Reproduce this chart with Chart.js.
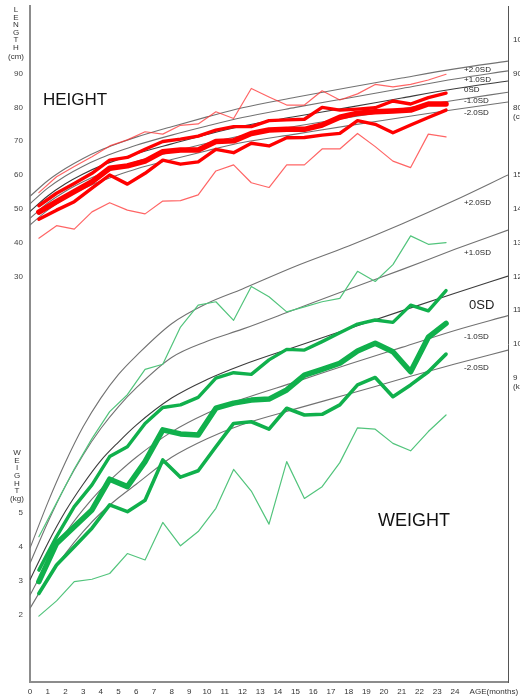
<!DOCTYPE html>
<html><head><meta charset="utf-8">
<script src="https://cdn.jsdelivr.net/npm/chart.js@4.4.1/dist/chart.umd.min.js"></script>
<style>html,body{margin:0;padding:0;background:#fff;}#wrap{width:520px;height:698px;position:relative;}</style>
</head><body><div id="wrap"><canvas id="c"></canvas></div>
<script>
// ---- data: measured points (months) ----
const dataMonths = [0.5,1.5,2.5,3.5,4.5,5.5,6.5,7.5,8.5,9.5,10.5,11.5,12.5,13.5,14.5,15.5,16.5,17.5,18.5,19.5,20.5,21.5,22.5,23.5];
// height (cm)
const heightThinUpper = [54.8,59.5,62.5,65.4,68.6,70.4,72.8,72.1,74.7,75.1,78.7,76.7,85.6,83.1,80.7,80.7,84.9,82.2,84.0,86.8,86.1,86.8,88.1,89.8];
const heightUpper     = [50.9,54.6,57.5,60.5,64.4,65.2,67.6,69.9,70.6,71.5,73.3,74.3,74.3,76.1,76.3,76.5,80.0,79.2,79.5,79.9,81.9,81.0,82.9,84.2];
const heightMiddle    = [49.0,52.1,55.1,58.0,62.0,62.7,64.1,66.9,67.4,67.4,69.9,70.1,72.3,73.3,73.5,73.5,74.8,77.1,78.3,78.7,78.9,79.2,81.0,81.0];
const heightLower     = [46.9,49.6,52.1,56.1,60.0,57.3,60.5,64.4,63.2,63.9,67.6,66.6,69.4,68.6,71.0,71.1,71.8,72.3,76.1,75.0,72.5,74.8,77.0,79.2];
const heightThinLower = [41.3,45.0,44.0,49.1,51.8,49.6,48.5,52.3,52.4,54.1,61.2,63.0,57.7,56.3,63.0,63.0,67.7,67.7,72.3,68.4,64.1,62.2,72.1,71.3];
// weight (kg)
const weightThinUpper = [4.3,5.3,6.3,7.2,8.0,8.5,9.25,9.4,10.5,11.15,11.25,10.7,11.7,11.4,10.95,11.1,11.25,11.35,12.15,11.85,12.35,13.2,12.95,13.0];
const weightUpper     = [3.31,4.3,5.19,5.83,6.67,6.96,7.65,8.12,8.2,8.42,8.99,9.15,9.1,9.53,9.84,9.82,10.07,10.33,10.59,10.71,10.64,11.15,10.98,11.58];
const weightMiddle    = [2.97,4.1,4.59,5.09,6.0,5.78,6.52,7.46,7.34,7.31,8.1,8.25,8.34,8.37,8.64,9.08,9.25,9.43,9.79,10.02,9.77,9.18,10.2,10.61];
const weightLower     = [2.62,3.46,4.0,4.55,5.24,5.04,5.38,6.57,6.06,6.25,6.96,7.65,7.70,7.48,8.10,7.90,7.92,8.20,8.79,9.01,8.44,8.79,9.18,9.70];
const weightThinLower = [1.95,2.4,2.97,3.04,3.21,3.8,3.61,4.72,4.03,4.45,5.14,6.29,5.65,4.67,6.52,5.43,5.78,6.49,7.52,7.48,7.06,6.84,7.41,7.9];

// ---- reference SD curves ----
const curveMonths = [0,1,2,3,4,5,6,8,10,12,15,18,21,24,27];
const heightP2 = [53.7,58.3,61.9,64.9,67.4,69.4,71.2,74.3,77.2,79.9,83.0,85.9,88.7,91.4,93.7];
const heightP1 = [51.5,56.1,59.7,62.6,65.0,67.0,68.8,71.8,74.5,77.0,80.0,82.8,85.6,88.4,90.8];
const height0  = [49.2,53.8,57.4,60.3,62.7,64.6,66.3,69.2,72.0,74.5,77.3,80.0,82.8,85.5,87.8];
const heightM1 = [47.2,51.7,55.2,58.0,60.4,62.3,64.0,66.8,69.4,71.7,74.4,77.0,79.6,82.1,84.5];
const heightM2 = [45.2,49.6,53.1,55.9,58.2,60.1,61.8,64.6,67.2,69.6,72.1,74.6,77.0,79.4,81.6];
const weightP2 = [3.96,5.3,6.5,7.55,8.4,9.1,9.65,10.6,11.2,11.63,12.3,12.9,13.55,14.25,15.0];
const weightP1 = [3.51,4.72,5.8,6.72,7.5,8.15,8.7,9.6,10.08,10.44,11.03,11.62,12.2,12.8,13.37];
const weight0  = [3.02,4.1,5.05,5.85,6.55,7.1,7.6,8.4,8.95,9.38,9.92,10.45,10.98,11.5,12.01];
const weightM1 = [2.57,3.55,4.4,5.1,5.7,6.2,6.65,7.4,7.95,8.37,8.88,9.4,9.9,10.4,10.84];
const weightM2 = [2.18,3.05,3.8,4.45,5.0,5.45,5.85,6.65,7.2,7.62,8.08,8.52,8.97,9.41,9.82];

// ---- tick labels ----
const xTickValues = [0,1,2,3,4,5,6,7,8,9,10,11,12,13,14,15,16,17,18,19,20,21,22,23,24,26.2];
const xTickLabels = ['0','1','2','3','4','5','6','7','8','9','10','11','12','13','14','15','16','17','18','19','20','21','22','23','24','AGE(months)'];
const leftWeightTicks = [2,3,4,5];
const leftLengthTicks = [30,40,50,60,70,80,90];
const rightWeightTicks = [9,10,11,12,13,14,15];
const rightLengthTicks = [80,90,100];
const sdLabels = ['+2.0SD','+1.0SD','0SD','-1.0SD','-2.0SD'];

const FONT = '"Liberation Sans", Arial, Helvetica, sans-serif';
const pts = (xs, ys) => xs.map((x, i) => ({x: x, y: ys[i]}));
const lenToKg = L => (L + 90) / 10; // the two vertical scales share one pixel grid

function dataLine(ys, axis, color, width) {
  return {data: pts(dataMonths, ys), yAxisID: axis, borderColor: color, borderWidth: width,
    pointRadius: 0, tension: 0, borderJoinStyle: 'round', borderCapStyle: 'round', order: 0, fill: false};
}
function sdCurve(ys, axis, color) {
  return {data: pts(curveMonths, ys), yAxisID: axis, borderColor: color, borderWidth: 1.1,
    pointRadius: 0, cubicInterpolationMode: 'monotone', order: 1, fill: false};
}

const RED = '#ff0000', RED_THIN = 'rgba(255,50,50,0.75)';
const GRN = '#10b04c', GRN_THIN = '#52c47c';
const GRAY = '#727272', GRAY_DARK = '#3c3c3c';

const datasets = [
  dataLine(heightUpper, 'yL', RED, 3.4),
  dataLine(heightMiddle, 'yL', RED, 5.5),
  dataLine(heightLower, 'yL', RED, 3.4),
  dataLine(heightThinUpper, 'yL', RED_THIN, 1.2),
  dataLine(heightThinLower, 'yL', RED_THIN, 1.2),
  dataLine(weightUpper, 'yW', GRN, 3.4),
  dataLine(weightMiddle, 'yW', GRN, 5.5),
  dataLine(weightLower, 'yW', GRN, 3.6),
  dataLine(weightThinUpper, 'yW', GRN_THIN, 1.2),
  dataLine(weightThinLower, 'yW', GRN_THIN, 1.2),
  sdCurve(heightP2, 'yL', GRAY), sdCurve(heightP1, 'yL', GRAY), sdCurve(height0, 'yL', GRAY_DARK),
  sdCurve(heightM1, 'yL', GRAY), sdCurve(heightM2, 'yL', GRAY),
  sdCurve(weightP2, 'yW', GRAY), sdCurve(weightP1, 'yW', GRAY), sdCurve(weight0, 'yW', GRAY_DARK),
  sdCurve(weightM1, 'yW', GRAY), sdCurve(weightM2, 'yW', GRAY)
];

const leftTicks = leftWeightTicks.map(w => ({value: w, label: String(w)}))
  .concat(leftLengthTicks.map(L => ({value: lenToKg(L), label: String(L)})));
const rightTicks = rightWeightTicks.map(w => ({value: w, label: String(w)}))
  .concat(rightLengthTicks.map(L => ({value: lenToKg(L), label: String(L)})));

const textPlugin = {
  id: 'texts',
  afterDraw(chart) {
    const ctx = chart.ctx;
    ctx.save();
    ctx.fillStyle = '#333';
    ctx.textAlign = 'center';
    ctx.textBaseline = 'middle';
    ctx.font = '8px ' + FONT;
    'LENGTH'.split('').forEach((ch, i) => ctx.fillText(ch, 16, 10 + i * 7.5));
    ctx.fillText('(cm)', 16, 57);
    'WEIGHT'.split('').forEach((ch, i) => ctx.fillText(ch, 17, 453 + i * 7.6));
    ctx.fillText('(kg)', 17, 499);
    ctx.textAlign = 'left';
    ctx.fillText('(cm)', 513, 117);
    ctx.fillText('(kg)', 513, 387);
    ctx.fillStyle = '#111';
    ctx.font = '17px ' + FONT;
    ctx.fillText('HEIGHT', 43, 100);
    ctx.font = '18px ' + FONT;
    ctx.fillText('WEIGHT', 378, 521);
    ctx.fillStyle = '#222';
    const hY = [70, 80, 90, 101, 113];
    const wY = [203, 253, 305, 337, 368];
    sdLabels.forEach((t, i) => {
      ctx.font = '8px ' + FONT;
      ctx.fillText(t, 464, hY[i]);
      if (i === 2) { ctx.font = '13px ' + FONT; ctx.fillText(t, 469, wY[i]); }
      else ctx.fillText(t, 464, wY[i]);
    });
    ctx.restore();
  }
};

new Chart(document.getElementById('c'), {
  type: 'line',
  data: {datasets: datasets},
  plugins: [textPlugin],
  options: {
    responsive: true, maintainAspectRatio: false, animation: false,
    layout: {padding: {top: 6, left: 0, right: 0, bottom: 0}},
    plugins: {legend: {display: false}, tooltip: {enabled: false}},
    elements: {point: {radius: 0}},
    scales: {
      x: {
        type: 'linear', min: 0, max: 27, position: 'bottom',
        grid: {display: false, drawTicks: false},
        border: {display: true, color: '#8c8c8c', width: 2},
        ticks: {autoSkip: false, maxRotation: 0, color: '#333', padding: 5,
          font: {size: 8, family: FONT}, callback: (v, i) => xTickLabels[i]},
        afterBuildTicks: s => { s.ticks = xTickValues.map(v => ({value: v})); },
        afterFit: s => { s.height = 16; s.paddingLeft = 0; s.paddingRight = 0; }
      },
      yW: {
        type: 'linear', position: 'left', min: 0, max: 20,
        grid: {display: false, drawTicks: false},
        border: {display: true, color: '#8c8c8c', width: 2},
        ticks: {autoSkip: false, color: '#444', padding: 7, font: {size: 8, family: FONT},
          callback: (v, i) => leftTicks[i].label},
        afterBuildTicks: s => { s.ticks = leftTicks.map(t => ({value: t.value})); },
        afterFit: s => { s.width = 30; s.paddingTop = 0; s.paddingBottom = 0; }
      },
      yL: {
        type: 'linear', position: 'left', min: -90, max: 110, display: false
      },
      yR: {
        type: 'linear', position: 'right', min: 0, max: 20,
        grid: {display: false, drawTicks: false},
        border: {display: true, color: '#555', width: 1},
        ticks: {autoSkip: false, color: '#333', padding: 5, font: {size: 8, family: FONT},
          callback: (v, i) => rightTicks[i].label},
        afterBuildTicks: s => { s.ticks = rightTicks.map(t => ({value: t.value})); },
        afterFit: s => { s.width = 12; s.paddingTop = 0; s.paddingBottom = 0; }
      }
    }
  }
});
</script>
</body></html>
